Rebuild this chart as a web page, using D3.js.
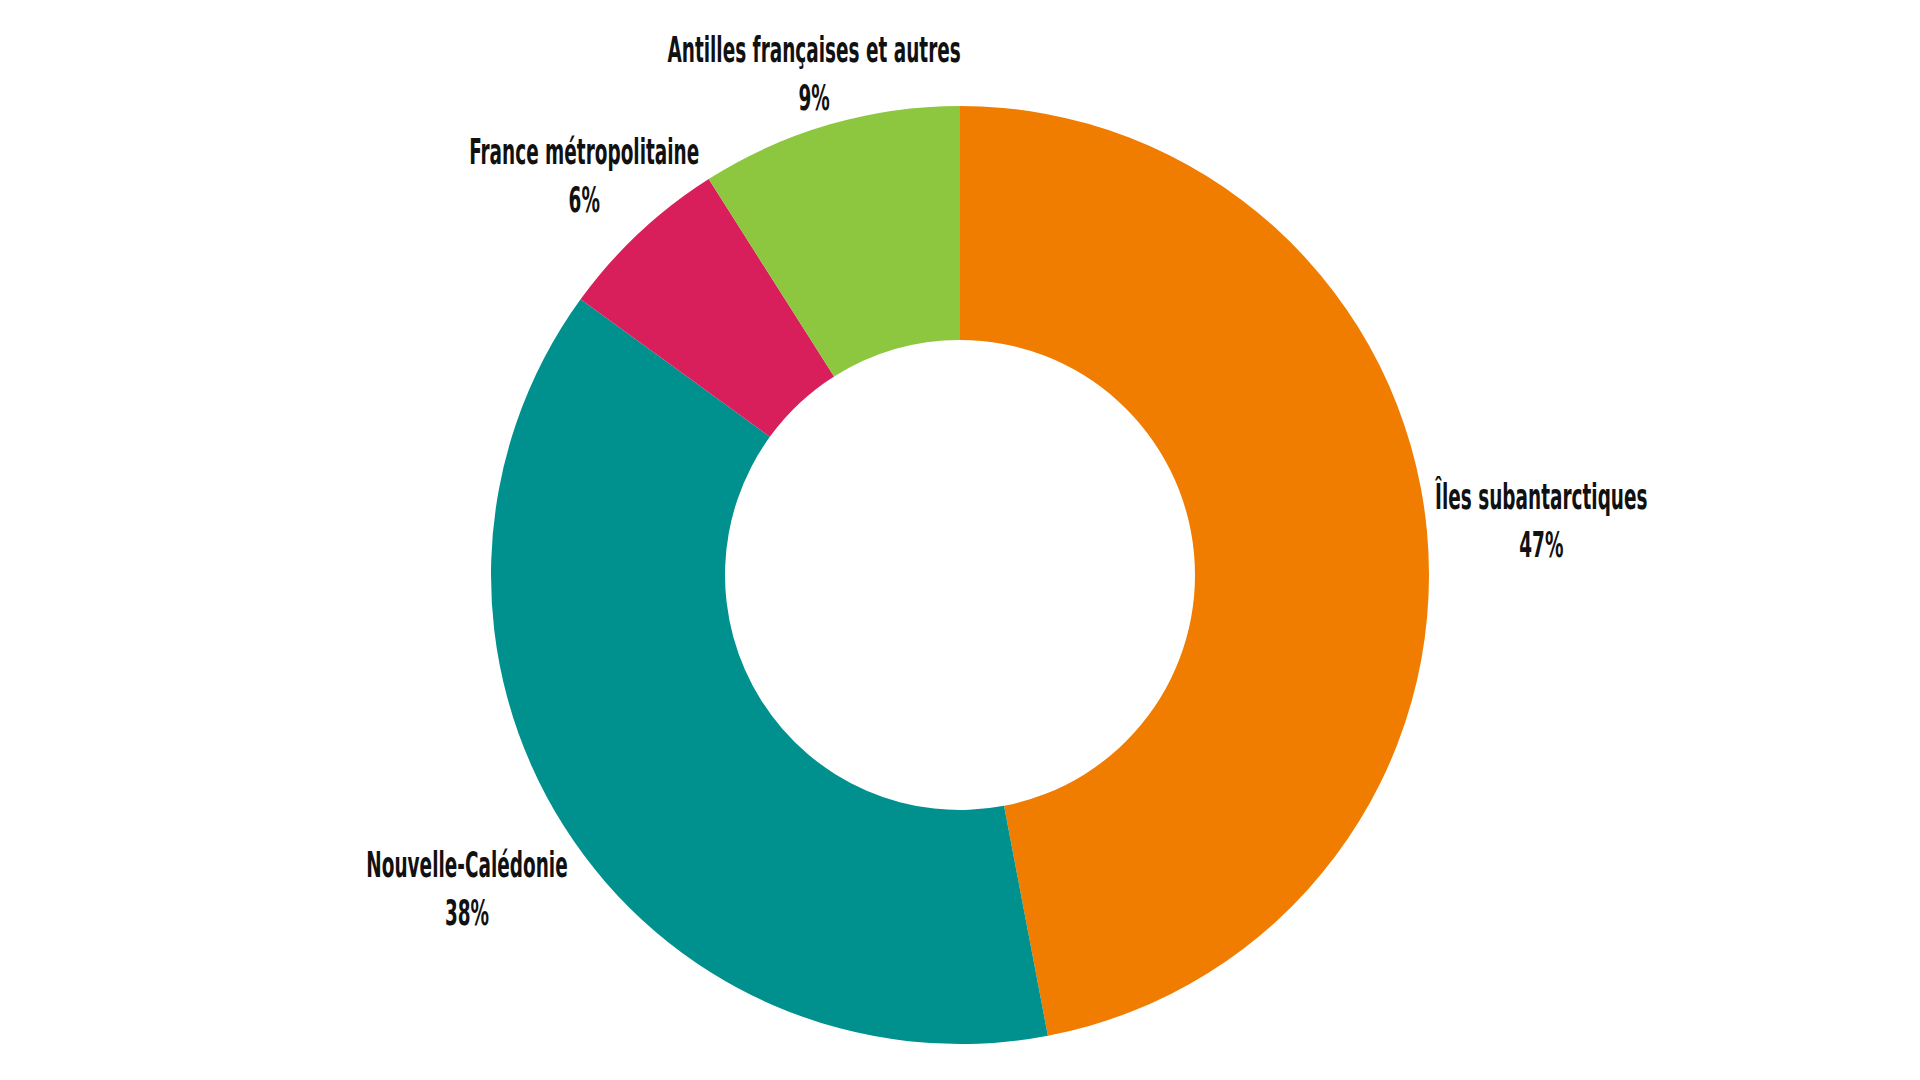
<!DOCTYPE html>
<html lang="fr">
<head>
<meta charset="UTF-8">
<title>Répartition</title>
<script src="https://cdn.jsdelivr.net/npm/d3@7"></script>
<style>
    html, body { margin: 0; padding: 0; background: #ffffff; }
    .lbl { font-family: "Liberation Sans Narrow", "DejaVu Sans Condensed", sans-serif; font-weight: 700; font-size: 36px; fill: #111111; }
</style>
</head>
<body>
<div id="chart"></div>
<script>
    // données
    const categories = ["Îles subantarctiques", "Nouvelle-Calédonie", "France métropolitaine", "Antilles françaises et autres"];
    const values = [47, 38, 6, 9];
    const colors = ["#F07D00", "#00918F", "#D81E5B", "#8DC63F"];

    const width = 1920, height = 1080;
    const cx = 960, cy = 575;
    const outerR = 469, innerR = 235;
    const squeeze = 0.57;      // police condensée
    const lineGap = 48;
    const capH = 26;
    const blockH = capH + lineGap;
    const topMargin = 35;

    const svg = d3.select("#chart").append("svg")
        .attr("width", width).attr("height", height);

    const pie = d3.pie().sort(null).value(d => d.value);
    const arcs = pie(categories.map((c, i) => ({ name: c, value: values[i], color: colors[i] })));
    const arc = d3.arc().innerRadius(innerR).outerRadius(outerR);

    svg.append("g").attr("transform", `translate(${cx},${cy})`)
        .selectAll("path")
        .data(arcs)
        .join("path")
        .attr("d", arc)
        .attr("fill", d => d.data.color);

    // étiquettes
    const fmt = d => Math.round(d.value / d3.sum(values) * 100) + "%";
    const labels = svg.append("g").selectAll("g")
        .data(arcs)
        .join("g");
    const texts = labels.append("text").attr("class", "lbl")
        .attr("text-anchor", "middle");
    texts.append("tspan").attr("x", 0).attr("y", -blockH / 2 + capH).text(d => d.data.name);
    texts.append("tspan").attr("x", 0).attr("y", -blockH / 2 + capH + lineGap).text(d => fmt(d.data));

    // placement le long de l'angle médian, en évitant les chevauchements
    const items = arcs.map((d, i) => {
        const mid = (d.startAngle + d.endAngle) / 2;
        const w = d3.max(texts.nodes()[i].querySelectorAll("tspan"), n => n.getComputedTextLength()) * squeeze;
        return { i, ux: Math.sin(mid), uy: -Math.cos(mid), w, t: outerR * 1.245 };
    });
    const boxAt = (it, t) => {
        const x = cx + it.ux * t, y = cy + it.uy * t;
        return { x0: x - it.w / 2, x1: x + it.w / 2, y0: y - blockH / 2, y1: y + blockH / 2 };
    };
    const placed = [];
    items.slice().sort((a, b) => a.uy - b.uy).forEach(it => {
        let t = it.t;
        while (t > outerR + 20) {
            const b = boxAt(it, t);
            const hit = b.y0 < topMargin || placed.some(p =>
                b.x0 < p.x1 && b.x1 > p.x0 && b.y0 < p.y1 + 28 && b.y1 > p.y0 - 28);
            if (!hit) break;
            t -= 1;
        }
        it.t = t;
        placed.push(boxAt(it, t));
    });

    labels.attr("transform", (d, i) => {
        const it = items[i];
        return `translate(${cx + it.ux * it.t},${cy + it.uy * it.t}) scale(${squeeze},1)`;
    });
</script>
</body>
</html>
